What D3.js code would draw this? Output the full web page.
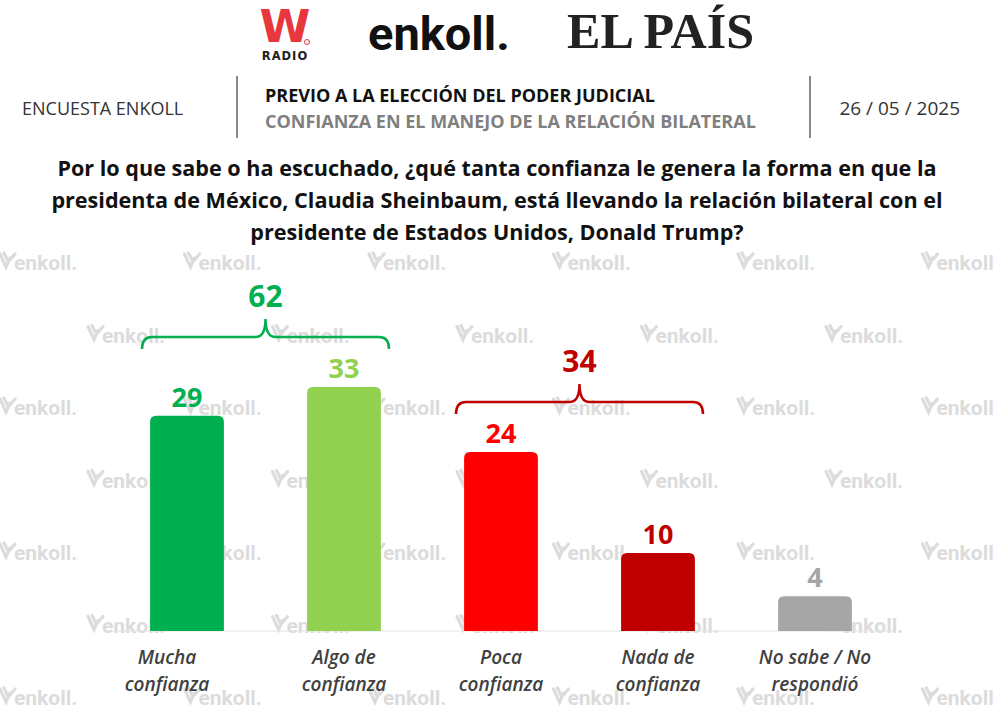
<!DOCTYPE html>
<html>
<head>
<meta charset="utf-8">
<script src="https://cdn.jsdelivr.net/npm/d3@7"></script>
<style>
  body { margin:0; background:#fff; }
  svg { display:block; }
</style>
</head>
<body>
<svg id="chart" width="993" height="727"></svg>
<script>
// datos de la encuesta
var categories = ["Mucha confianza", "Algo de confianza", "Poca confianza", "Nada de confianza", "No sabe / No respondió"];
var labelLines = [["Mucha", "confianza"], ["Algo de", "confianza"], ["Poca", "confianza"], ["Nada de", "confianza"], ["No sabe / No", "respondió"]];
var values = [29, 33, 24, 10, 4];
var barColors = ["#00B050", "#92D050", "#FF0000", "#C00000", "#A6A6A6"];
var groupTotals = [62, 34];
var groupRanges = [[0, 1], [2, 3]];
var groupColors = ["#00B050", "#C00000"];

var headerLeft = "ENCUESTA ENKOLL";
var headerTitle = "PREVIO A LA ELECCIÓN DEL PODER JUDICIAL";
var headerSub = "CONFIANZA EN EL MANEJO DE LA RELACIÓN BILATERAL";
var headerDate = "26 / 05 / 2025";
var question = [
  "Por lo que sabe o ha escuchado, ¿qué tanta confianza le genera la forma en que la",
  "presidenta de México, Claudia Sheinbaum, está llevando la relación bilateral con el",
  "presidente de Estados Unidos, Donald Trump?"
];

var svg = d3.select("#chart");

// marcas de agua "enkoll." en rejilla desfasada
var wm = svg.append("g");
for (var r = 0; r < 7; r++) {
  var wy = 262 + r * 72.5;
  var off = (r % 2 == 0) ? 0 : 88;
  for (var c = -1; c < 6; c++) {
    var wx = off + c * 184.5;
    var g = wm.append("g").attr("transform", "translate(" + wx + "," + wy + ")");
    g.append("path")
      .attr("d", "M0,-8 L6,5 L10,-4 M4,-9 L8,-1 M10,-2 L15,-8")
      .attr("fill", "none").attr("stroke", "#dcdcdc").attr("stroke-width", 3.2)
      .attr("stroke-linecap", "round");
    g.append("text").attr("x", 14).attr("y", 8)
      .attr("font-family", "Roboto, 'Noto Sans', sans-serif").attr("font-weight", 700)
      .attr("font-size", 21).attr("fill", "#dcdcdc").text("enkoll.");
  }
}

// logos de la cabecera
var logos = svg.append("g");
logos.append("text").attr("x", 285).attr("y", 42).attr("text-anchor", "middle")
  .attr("font-family", "'DejaVu Sans', sans-serif").attr("font-weight", 900)
  .attr("font-size", 44).attr("fill", "#E8383D").attr("transform", "translate(285,0) scale(1.05,1) translate(-285,0)").text("W");
logos.append("circle").attr("cx", 307).attr("cy", 42).attr("r", 2.5).attr("fill", "none").attr("stroke", "#E8383D").attr("stroke-width", 1);
logos.append("text").attr("x", 285).attr("y", 60).attr("text-anchor", "middle")
  .attr("font-family", "'DejaVu Sans', sans-serif").attr("font-weight", 700)
  .attr("font-size", 11.5).attr("letter-spacing", 1).attr("fill", "#222").text("RADIO");
logos.append("text").attr("x", 368).attr("y", 50)
  .attr("font-family", "Roboto, sans-serif").attr("font-weight", 700)
  .attr("font-size", 47).attr("fill", "#111").text("enkoll.");
logos.append("text").attr("x", 567).attr("y", 48)
  .attr("font-family", "'Liberation Serif', 'DejaVu Serif', serif").attr("font-weight", 700)
  .attr("font-size", 50).attr("fill", "#222")
  .attr("textLength", 187).attr("lengthAdjust", "spacingAndGlyphs").text("EL PAÍS");

// fila de cabecera
var hdr = svg.append("g").attr("font-family", "'Liberation Sans Narrow', 'Open Sans', sans-serif");
hdr.append("text").attr("x", 22).attr("y", 115).attr("font-size", 18).attr("fill", "#333").text(headerLeft);
hdr.append("line").attr("x1", 237).attr("x2", 237).attr("y1", 76).attr("y2", 138).attr("stroke", "#888").attr("stroke-width", 2);
hdr.append("line").attr("x1", 810).attr("x2", 810).attr("y1", 76).attr("y2", 138).attr("stroke", "#888").attr("stroke-width", 2);
hdr.append("text").attr("x", 265).attr("y", 102).attr("font-size", 18).attr("font-weight", 700).attr("fill", "#111").text(headerTitle);
hdr.append("text").attr("x", 265).attr("y", 128).attr("font-size", 18).attr("font-weight", 700).attr("fill", "#7f7f7f").text(headerSub);
hdr.append("text").attr("x", 960).attr("y", 115).attr("text-anchor", "end").attr("font-size", 19).attr("fill", "#333").text(headerDate);

// pregunta
svg.append("g").selectAll("text").data(question).join("text")
  .attr("x", 497).attr("y", function(d, i) { return 176 + i * 32; })
  .attr("text-anchor", "middle")
  .attr("font-family", "'Open Sans', sans-serif").attr("font-weight", 700)
  .attr("font-size", 21.6).attr("fill", "#111").text(function(d) { return d; });

// escalas
var x = d3.scaleBand().domain(categories).range([108.5, 893.5]).paddingInner(0.53).paddingOuter(0.265);
var y = d3.scaleLinear().domain([0, 33]).range([625, 387]);
var baseY = 631;

// linea base
svg.append("line").attr("x1", 108).attr("x2", 894).attr("y1", baseY).attr("y2", baseY)
  .attr("stroke", "#e3e3e3").attr("stroke-width", 1);

// barras con esquinas superiores redondeadas
function barPath(x0, w, yt, yb, r) {
  var p = d3.path();
  p.moveTo(x0, yb);
  p.lineTo(x0, yt + r);
  p.quadraticCurveTo(x0, yt, x0 + r, yt);
  p.lineTo(x0 + w - r, yt);
  p.quadraticCurveTo(x0 + w, yt, x0 + w, yt + r);
  p.lineTo(x0 + w, yb);
  p.closePath();
  return p.toString();
}

svg.append("g").selectAll("path").data(values).join("path")
  .attr("d", function(d, i) { return barPath(x(categories[i]), x.bandwidth(), y(d), baseY, 6); })
  .attr("fill", function(d, i) { return barColors[i]; });

// etiquetas de valor
svg.append("g").selectAll("text").data(values).join("text")
  .attr("x", function(d, i) { return x(categories[i]) + x.bandwidth() / 2; })
  .attr("y", function(d) { return y(d) - 9; })
  .attr("text-anchor", "middle")
  .attr("font-family", "'Open Sans', sans-serif").attr("font-weight", 700)
  .attr("font-size", 27).attr("fill", function(d, i) { return barColors[i]; })
  .text(function(d) { return d; });

// etiquetas de categoria (la primera va un poco a la izquierda, como en el original)
var cat = svg.append("g");
labelLines.forEach(function(lines, i) {
  var cx = x(categories[i]) + x.bandwidth() / 2 + (i == 0 ? -20 : 0);
  cat.append("text")
    .attr("text-anchor", "middle")
    .attr("font-family", "'Open Sans', sans-serif").attr("font-style", "italic").attr("font-weight", 600)
    .attr("font-size", 19).attr("fill", "#404040")
    .selectAll("tspan").data(lines).join("tspan")
    .attr("x", cx)
    .attr("y", function(d, j) { return 664 + j * 26.5; })
    .text(function(d) { return d; });
});

// llaves de agrupacion
function bracePath(x0, x1, yb, h) {
  var xm = (x0 + x1) / 2, yl = yb - 12, r = 10;
  var p = d3.path();
  p.moveTo(x0, yb);
  p.quadraticCurveTo(x0, yl, x0 + r, yl);
  p.lineTo(xm - r, yl);
  p.quadraticCurveTo(xm, yl, xm, yl - h);
  p.quadraticCurveTo(xm, yl, xm + r, yl);
  p.lineTo(x1 - r, yl);
  p.quadraticCurveTo(x1, yl, x1, yb);
  return p.toString();
}

var br = svg.append("g");
groupRanges.forEach(function(rg, k) {
  var x0 = x(categories[rg[0]]) + x.bandwidth() / 2 - 45;
  var x1 = x(categories[rg[1]]) + x.bandwidth() / 2 + 45;
  var top = d3.max(values.slice(rg[0], rg[1] + 1));
  var yb = y(top) - 38;
  br.append("path").attr("d", bracePath(x0, x1, yb, 18))
    .attr("fill", "none").attr("stroke", groupColors[k]).attr("stroke-width", 2.5);
  br.append("text").attr("x", (x0 + x1) / 2).attr("y", yb - 30 - 12)
    .attr("text-anchor", "middle")
    .attr("font-family", "'Open Sans', sans-serif").attr("font-weight", 700)
    .attr("font-size", 30).attr("fill", groupColors[k]).text(groupTotals[k]);
});
</script>
</body>
</html>
